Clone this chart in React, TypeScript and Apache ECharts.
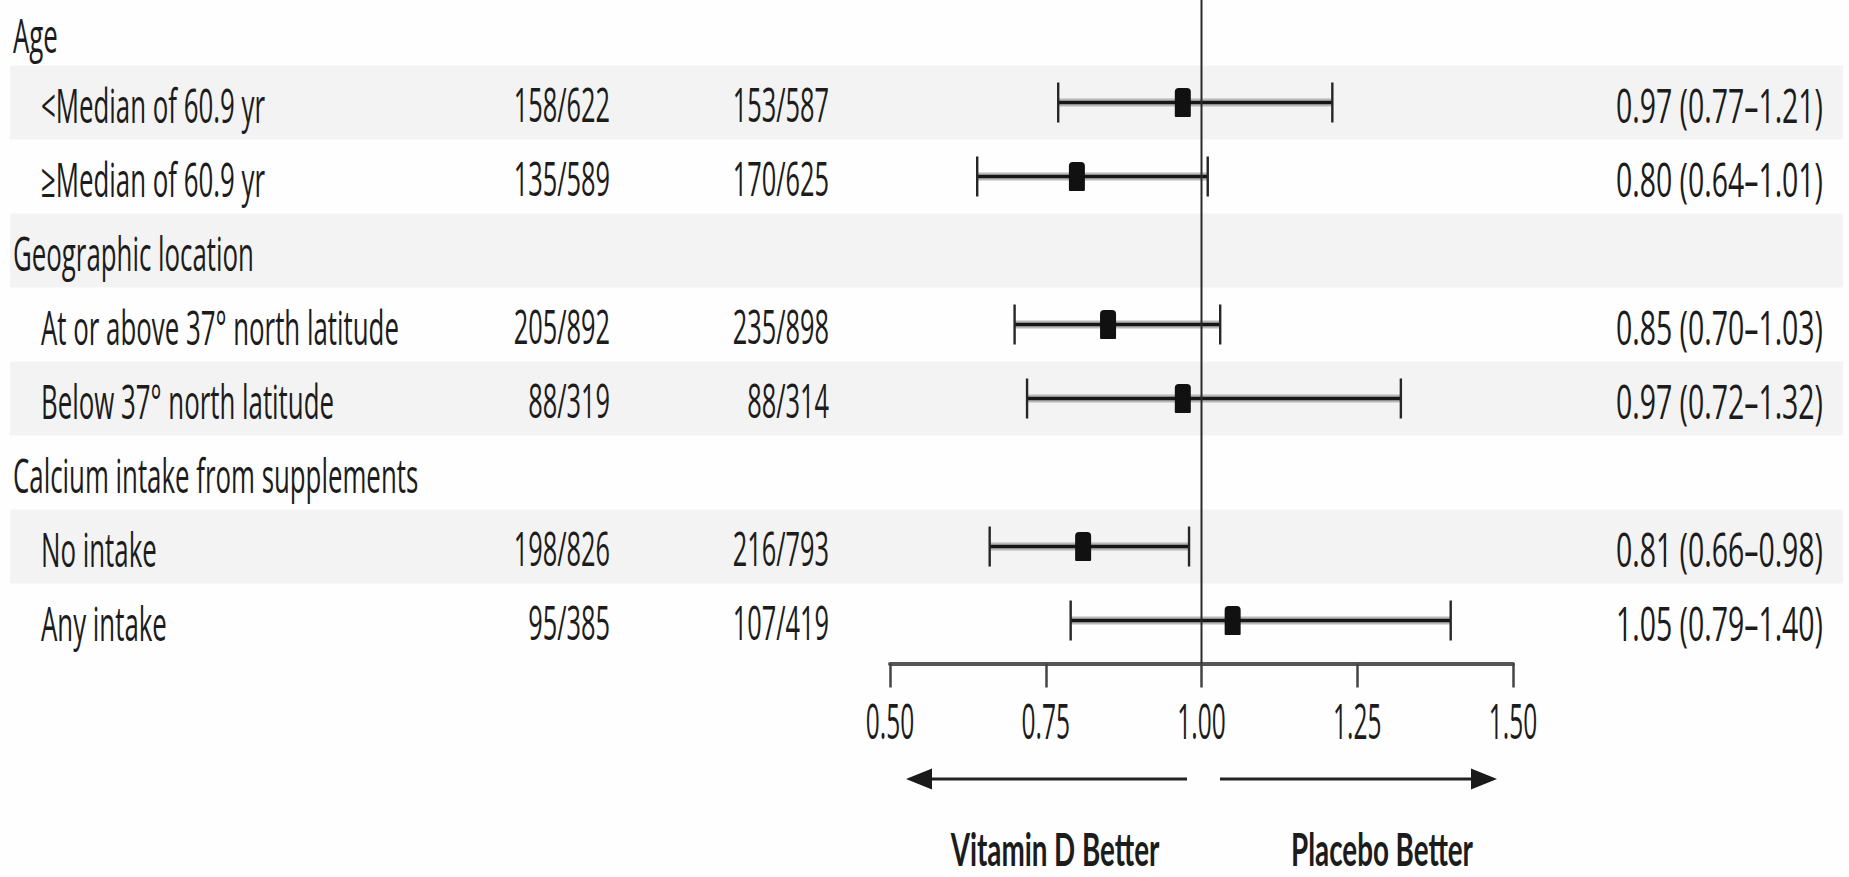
import React, { useEffect, useRef } from "react";
import * as echarts from "echarts";

// ---------------- data ----------------
const ROW_LABELS = [
  "Age",
  "<Median of 60.9 yr",
  "≥Median of 60.9 yr",
  "Geographic location",
  "At or above 37° north latitude",
  "Below 37° north latitude",
  "Calcium intake from supplements",
  "No intake",
  "Any intake",
];
const ROW_IS_HEADER = [true, false, false, true, false, false, true, false, false];
const VITAMIN_D_EVENTS = ["", "158/622", "135/589", "", "205/892", "88/319", "", "198/826", "95/385"];
const PLACEBO_EVENTS = ["", "153/587", "170/625", "", "235/898", "88/314", "", "216/793", "107/419"];
const HAZARD_RATIO: (number | null)[] = [null, 0.97, 0.8, null, 0.85, 0.97, null, 0.81, 1.05];
const CI_LOWER: (number | null)[] = [null, 0.77, 0.64, null, 0.7, 0.72, null, 0.66, 0.79];
const CI_UPPER: (number | null)[] = [null, 1.21, 1.01, null, 1.03, 1.32, null, 0.98, 1.4];
const TICK_VALUES = [0.5, 0.75, 1.0, 1.25, 1.5];
const TICK_LABELS = ["0.50", "0.75", "1.00", "1.25", "1.50"];
const DIRECTION_LABELS = ["Vitamin D Better", "Placebo Better"];
const REFERENCE_HR = 1;

// ---------------- layout ----------------
const W = 1849;
const H = 877;
const Y_MIN = -0.385;
const Y_MAX = 8.581;
const PLOT_H = 663.5;
const FONT = "'Open Sans', sans-serif";
const BOLD_FONT = "Lato, 'Open Sans', sans-serif";
const TXT_SIZE = 47;
const LABEL_SCALE = 0.55;
const COUNT_SCALE = 0.54;
const CI_SCALE = 0.605;
const TICK_SIZE = 50;
const TICK_SCALE = 0.49;
const BOLD_SIZE = 46;
const BOLD_TARGET_W = 209;
const TEXT_COLOR = "#1c1c1c";
const COL = { header: 13, sub: 41, vitd: 610, placebo: 829, ci: 1823 };

const fmt = (v: number) => v.toFixed(2);

function measure(text: string, font: string) {
  try {
    const ctx = document.createElement("canvas").getContext("2d");
    if (!ctx) return 0;
    ctx.font = font;
    return ctx.measureText(text).width;
  } catch {
    return 0;
  }
}

function txt(
  x: number,
  y: number,
  text: string,
  align: string,
  size: number,
  scale: number,
  weight = "normal",
  family = FONT
) {
  return {
    type: "text",
    x,
    y,
    scaleX: scale,
    style: {
      text,
      fill: TEXT_COLOR,
      fontSize: size,
      fontFamily: family,
      fontWeight: weight,
      lineHeight: size,
      align,
      verticalAlign: "middle",
      textAlign: align,
      textVerticalAlign: "middle",
    },
  };
}

export default function App() {
  const ref = useRef<HTMLDivElement>(null);

  useEffect(() => {
    if (!ref.current) return;
    const chart = echarts.init(ref.current, undefined, { renderer: "svg" });

    const rowIdx = ROW_LABELS.map((_, i) => i);
    const forestData = rowIdx
      .filter((i) => HAZARD_RATIO[i] != null)
      .map((i) => [HAZARD_RATIO[i], i, CI_LOWER[i], CI_UPPER[i]]);

    const boldW = measure(DIRECTION_LABELS[0], `bold ${BOLD_SIZE}px ${BOLD_FONT}`);
    const boldScale = boldW > 0 ? BOLD_TARGET_W / boldW : 0.6;

    const option: any = {
      animation: false,
      backgroundColor: "#fefefe",
      grid: [
        { left: 10, right: 6, top: 0, height: PLOT_H },
        { left: 890, width: 623, top: 0, height: PLOT_H },
      ],
      xAxis: [
        { gridIndex: 0, type: "value", min: 0, max: 1, show: false },
        {
          gridIndex: 1,
          type: "value",
          min: 0.5,
          max: 1.5,
          interval: 0.25,
          position: "bottom",
          axisLine: { show: true, onZero: false, lineStyle: { color: "#555", width: 4 } },
          axisTick: { show: true, length: 24, lineStyle: { color: "#444", width: 2.5 } },
          axisLabel: { show: false },
          splitLine: { show: false },
        },
      ],
      yAxis: [
        { gridIndex: 0, type: "value", min: Y_MIN, max: Y_MAX, inverse: true, show: false },
        { gridIndex: 1, type: "value", min: Y_MIN, max: Y_MAX, inverse: true, show: false },
      ],
      series: [
        {
          name: "bands",
          type: "custom",
          xAxisIndex: 0,
          yAxisIndex: 0,
          silent: true,
          z: 0,
          data: rowIdx.filter((i) => i % 2 === 1).map((i) => [0.5, i]),
          encode: { x: 0, y: 1 },
          renderItem: (params: any, api: any) => {
            const i = api.value(1);
            const a = api.coord([0, i - 0.5]);
            const b = api.coord([1, i + 0.5]);
            return {
              type: "rect",
              shape: { x: a[0], y: a[1], width: b[0] - a[0], height: b[1] - a[1] },
              style: { fill: "#f3f3f3" },
            };
          },
        },
        {
          name: "table",
          type: "custom",
          xAxisIndex: 0,
          yAxisIndex: 0,
          silent: true,
          z: 2,
          data: rowIdx.map((i) => [0.5, i]),
          encode: { x: 0, y: 1 },
          renderItem: (params: any, api: any) => {
            const i = api.value(1);
            const y = Math.max(api.coord([0, i])[1] + 1.5, 34);
            const children: any[] = [
              txt(ROW_IS_HEADER[i] ? COL.header : COL.sub, y, ROW_LABELS[i], "left", TXT_SIZE, LABEL_SCALE),
            ];
            if (VITAMIN_D_EVENTS[i]) children.push(txt(COL.vitd, y, VITAMIN_D_EVENTS[i], "right", TXT_SIZE, COUNT_SCALE));
            if (PLACEBO_EVENTS[i]) children.push(txt(COL.placebo, y, PLACEBO_EVENTS[i], "right", TXT_SIZE, COUNT_SCALE));
            const hr = HAZARD_RATIO[i];
            const lo = CI_LOWER[i];
            const hi = CI_UPPER[i];
            if (hr != null && lo != null && hi != null) {
              children.push(txt(COL.ci, y, `${fmt(hr)} (${fmt(lo)}–${fmt(hi)})`, "right", TXT_SIZE, CI_SCALE));
            }
            return { type: "group", children };
          },
        },
        {
          name: "forest",
          type: "custom",
          xAxisIndex: 1,
          yAxisIndex: 1,
          silent: true,
          z: 3,
          data: forestData,
          encode: { x: [0, 2, 3], y: 1 },
          renderItem: (params: any, api: any) => {
            const hr = api.value(0);
            const i = api.value(1);
            const lo = api.value(2);
            const hi = api.value(3);
            const c = api.coord([hr, i]);
            const l = api.coord([lo, i]);
            const h = api.coord([hi, i]);
            const y = c[1];
            return {
              type: "group",
              children: [
                { type: "line", shape: { x1: l[0], y1: y, x2: h[0], y2: y }, style: { stroke: "#b8b8b8", lineWidth: 8 } },
                { type: "line", shape: { x1: l[0], y1: y, x2: h[0], y2: y }, style: { stroke: "#161616", lineWidth: 3.6 } },
                { type: "line", shape: { x1: l[0], y1: y - 20, x2: l[0], y2: y + 20 }, style: { stroke: "#262626", lineWidth: 2.4 } },
                { type: "line", shape: { x1: h[0], y1: y - 20, x2: h[0], y2: y + 20 }, style: { stroke: "#262626", lineWidth: 2.4 } },
                { type: "rect", shape: { x: c[0] - 8, y: y - 14.5, width: 16, height: 29, r: [4, 4, 1, 1] }, style: { fill: "#111" } },
              ],
            };
          },
        },
        {
          name: "reference",
          type: "line",
          xAxisIndex: 1,
          yAxisIndex: 1,
          silent: true,
          z: 5,
          symbol: "none",
          data: [
            [REFERENCE_HR, Y_MIN],
            [REFERENCE_HR, Y_MAX],
          ],
          lineStyle: { color: "#2a2a2a", width: 2 },
        },
        {
          name: "tickLabels",
          type: "custom",
          xAxisIndex: 1,
          yAxisIndex: 1,
          silent: true,
          z: 3,
          clip: false,
          data: TICK_VALUES.map((v) => [v, 0]),
          encode: { x: 0, y: 1 },
          renderItem: (params: any, api: any) => {
            const x = api.coord([api.value(0), 0])[0];
            return txt(x, 720, TICK_LABELS[params.dataIndex], "center", TICK_SIZE, TICK_SCALE);
          },
        },
      ],
      graphic: [
        { type: "line", shape: { x1: 928, y1: 779, x2: 1187, y2: 779 }, style: { stroke: "#222", lineWidth: 3 } },
        { type: "polygon", shape: { points: [[906, 779], [932, 768.5], [932, 789.5]] }, style: { fill: "#1a1a1a" } },
        { type: "line", shape: { x1: 1220, y1: 779, x2: 1475, y2: 779 }, style: { stroke: "#222", lineWidth: 3 } },
        { type: "polygon", shape: { points: [[1497, 779], [1471, 768.5], [1471, 789.5]] }, style: { fill: "#1a1a1a" } },
        txt(1055, 848, DIRECTION_LABELS[0], "center", BOLD_SIZE, boldScale, "bold", BOLD_FONT),
        txt(1382, 848, DIRECTION_LABELS[1], "center", BOLD_SIZE, boldScale, "bold", BOLD_FONT),
      ],
    };

    chart.setOption(option);
    return () => chart.dispose();
  }, []);

  return (
    <div
      ref={ref}
      style={{ position: "fixed", left: 0, top: 0, width: W + "px", height: H + "px", background: "#fefefe" }}
    />
  );
}
